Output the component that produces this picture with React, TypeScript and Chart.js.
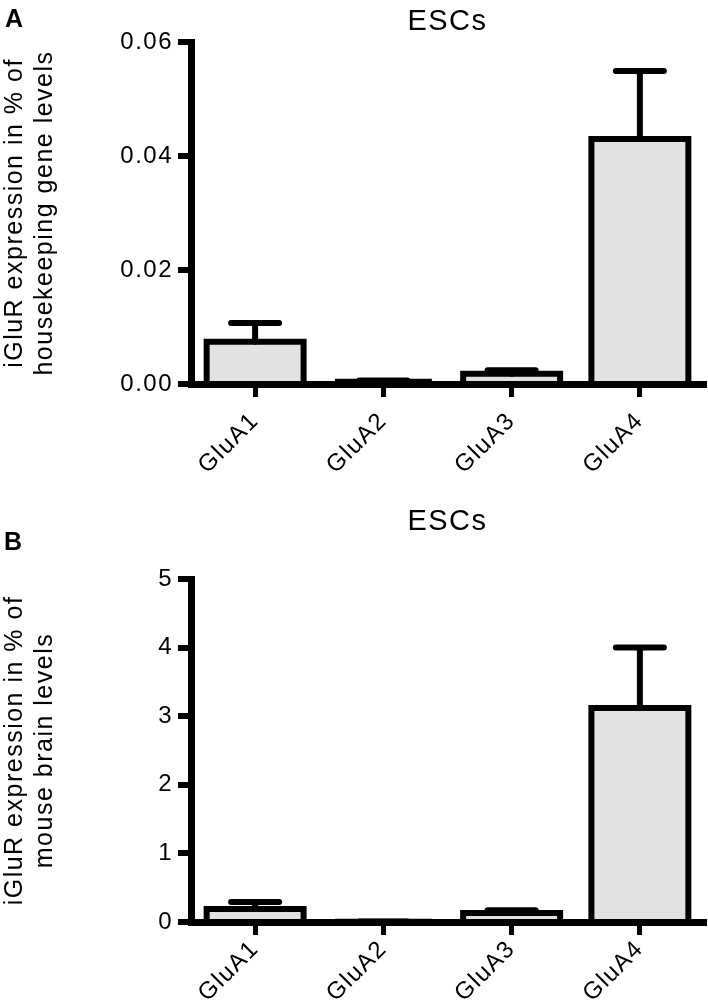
import React, { useEffect, useRef } from 'react';
import { Chart, registerables } from 'chart.js';

Chart.register(...registerables);

// ---- data ----
const categories = ['GluA1', 'GluA2', 'GluA3', 'GluA4'];
const meanA = [0.0074, 0.0004, 0.0018, 0.043];
const semA = [0.0033, 0.0002, 0.0006, 0.0119];
const meanB = [0.19, 0.005, 0.13, 3.12];
const semB = [0.1, 0.003, 0.04, 0.88];
const tickValuesA = [0, 0.02, 0.04, 0.06];
const tickLabelsA = ['0.00', '0.02', '0.04', '0.06'];
const tickValuesB = [0, 1, 2, 3, 4, 5];
const tickLabelsB = ['0', '1', '2', '3', '4', '5'];
const titleA = 'ESCs';
const titleB = 'ESCs';
const yTitleA = ['iGluR expression in % of', 'housekeeping gene levels'];
const yTitleB = ['iGluR expression in % of', 'mouse brain levels'];

const FONT = "'Liberation Sans', Arial, Helvetica, sans-serif";
const BLACK = '#000000';
const FILL = '#e2e2e2';

const spacingPlugin = {
  id: 'letterSpacingPlugin',
  beforeLayout(chart: any) {
    chart.ctx.letterSpacing = '1.5px';
  },
  beforeDraw(chart: any) {
    chart.ctx.letterSpacing = '1.5px';
  },
};

// outline of each bar, centred on the bar's edges (GraphPad style)
const barOutlinePlugin = {
  id: 'barOutline',
  afterDatasetsDraw(chart: any) {
    const meta = chart.getDatasetMeta(0);
    const ctx = chart.ctx;
    ctx.save();
    ctx.strokeStyle = BLACK;
    ctx.lineWidth = 6;
    ctx.lineJoin = 'miter';
    ctx.lineCap = 'butt';
    meta.data.forEach((el: any) => {
      const { x, y, base, width } = el.getProps(['x', 'y', 'base', 'width'], true);
      const l = x - width / 2;
      const r = x + width / 2;
      ctx.beginPath();
      ctx.moveTo(l, base);
      ctx.lineTo(l, y);
      ctx.lineTo(r, y);
      ctx.lineTo(r, base);
      ctx.stroke();
    });
    ctx.restore();
  },
};

const errorBarPlugin = {
  id: 'errorBars',
  afterDatasetsDraw(chart: any, _args: any, opts: any) {
    const sem: number[] = opts.sem || [];
    const vals = chart.data.datasets[0].data as number[];
    const meta = chart.getDatasetMeta(0);
    const ys = chart.scales.y;
    const ctx = chart.ctx;
    const capHalf = 24;
    ctx.save();
    ctx.strokeStyle = BLACK;
    ctx.lineWidth = 6;
    ctx.lineCap = 'round';
    meta.data.forEach((el: any, i: number) => {
      const x = el.x;
      const yv = ys.getPixelForValue(vals[i]);
      const ye = ys.getPixelForValue(vals[i] + sem[i]);
      ctx.beginPath();
      ctx.moveTo(x, yv);
      ctx.lineTo(x, ye);
      ctx.moveTo(x - capHalf, ye);
      ctx.lineTo(x + capHalf, ye);
      ctx.stroke();
    });
    ctx.restore();
  },
};

function makeConfig(p: {
  means: number[];
  sems: number[];
  max: number;
  tickValues: number[];
  tickLabels: string[];
  title: string;
  yTitle: string[];
  titleBottom: number;
  xHeight: number;
  xPad: number;
}): any {
  return {
    type: 'bar',
    data: {
      labels: categories,
      datasets: [
        {
          data: p.means,
          backgroundColor: FILL,
          borderWidth: 0,
          inflateAmount: 0,
          barPercentage: 0.756,
          categoryPercentage: 1,
        },
      ],
    },
    options: {
      responsive: false,
      animation: false,
      layout: { padding: { left: 0, right: 4, top: 0, bottom: 0 } },
      plugins: {
        legend: { display: false },
        tooltip: { enabled: false },
        title: {
          display: true,
          text: p.title,
          color: BLACK,
          fullSize: false,
          font: { family: FONT, size: 29, weight: 'normal', lineHeight: 1.2 },
          padding: { top: 5, bottom: p.titleBottom },
        },
        errorBars: { sem: p.sems },
      },
      scales: {
        x: {
          type: 'category',
          offset: true,
          z: 1,
          grid: {
            display: true,
            drawOnChartArea: false,
            drawTicks: true,
            tickLength: 13,
            lineWidth: 5,
            color: BLACK,
            offset: false,
          },
          border: { display: true, width: 7, color: BLACK },
          ticks: {
            color: BLACK,
            font: { family: FONT, size: 24 },
            minRotation: 45,
            maxRotation: 45,
            autoSkip: false,
            padding: p.xPad,
          },
          afterFit: (s: any) => {
            s.height = p.xHeight;
          },
        },
        y: {
          type: 'linear',
          min: 0,
          max: p.max,
          z: 1,
          grid: {
            display: true,
            drawOnChartArea: false,
            drawTicks: true,
            tickLength: 13,
            lineWidth: 6,
            color: BLACK,
          },
          border: { display: true, width: 7, color: BLACK },
          ticks: {
            color: BLACK,
            font: { family: FONT, size: 24 },
            padding: 5,
            callback: (_v: any, i: number) => p.tickLabels[i],
          },
          afterBuildTicks: (s: any) => {
            s.ticks = p.tickValues.map((v) => ({ value: v }));
          },
          title: {
            display: true,
            text: p.yTitle,
            color: BLACK,
            font: { family: FONT, size: 25, lineHeight: 1.2 },
            padding: { top: 0, bottom: 0 },
          },
          afterFit: (s: any) => {
            s.width = 191;
          },
        },
      },
    },
    plugins: [spacingPlugin, barOutlinePlugin, errorBarPlugin],
  };
}

function Panel(props: { config: any; width: number; height: number; top: number }) {
  const ref = useRef<HTMLCanvasElement | null>(null);
  useEffect(() => {
    if (!ref.current) return;
    const chart = new Chart(ref.current, props.config);
    return () => chart.destroy();
  }, []);
  return (
    <canvas
      ref={ref}
      width={props.width}
      height={props.height}
      style={{ position: 'absolute', left: 0, top: props.top, width: props.width, height: props.height }}
    />
  );
}

const letterStyle: React.CSSProperties = {
  position: 'absolute',
  fontFamily: FONT,
  fontWeight: 'bold',
  fontSize: 25,
  lineHeight: '25px',
  color: BLACK,
};

export default function App() {
  const configA = makeConfig({
    means: meanA,
    sems: semA,
    max: 0.06,
    tickValues: tickValuesA,
    tickLabels: tickLabelsA,
    title: titleA,
    yTitle: yTitleA,
    titleBottom: 2.2,
    xHeight: 106,
    xPad: 10,
  });
  const configB = makeConfig({
    means: meanB,
    sems: semB,
    max: 5,
    tickValues: tickValuesB,
    tickLabels: tickLabelsB,
    title: titleB,
    yTitle: yTitleB,
    titleBottom: 39.2,
    xHeight: 82,
    xPad: 0,
  });
  return (
    <div style={{ position: 'absolute', left: 0, top: 0, width: 708, height: 1004, background: '#ffffff' }}>
      <Panel config={configA} width={708} height={490} top={0} />
      <Panel config={configB} width={708} height={504} top={500} />
      <div style={{ ...letterStyle, left: 5, top: 6 }}>A</div>
      <div style={{ ...letterStyle, left: 4, top: 529 }}>B</div>
    </div>
  );
}
